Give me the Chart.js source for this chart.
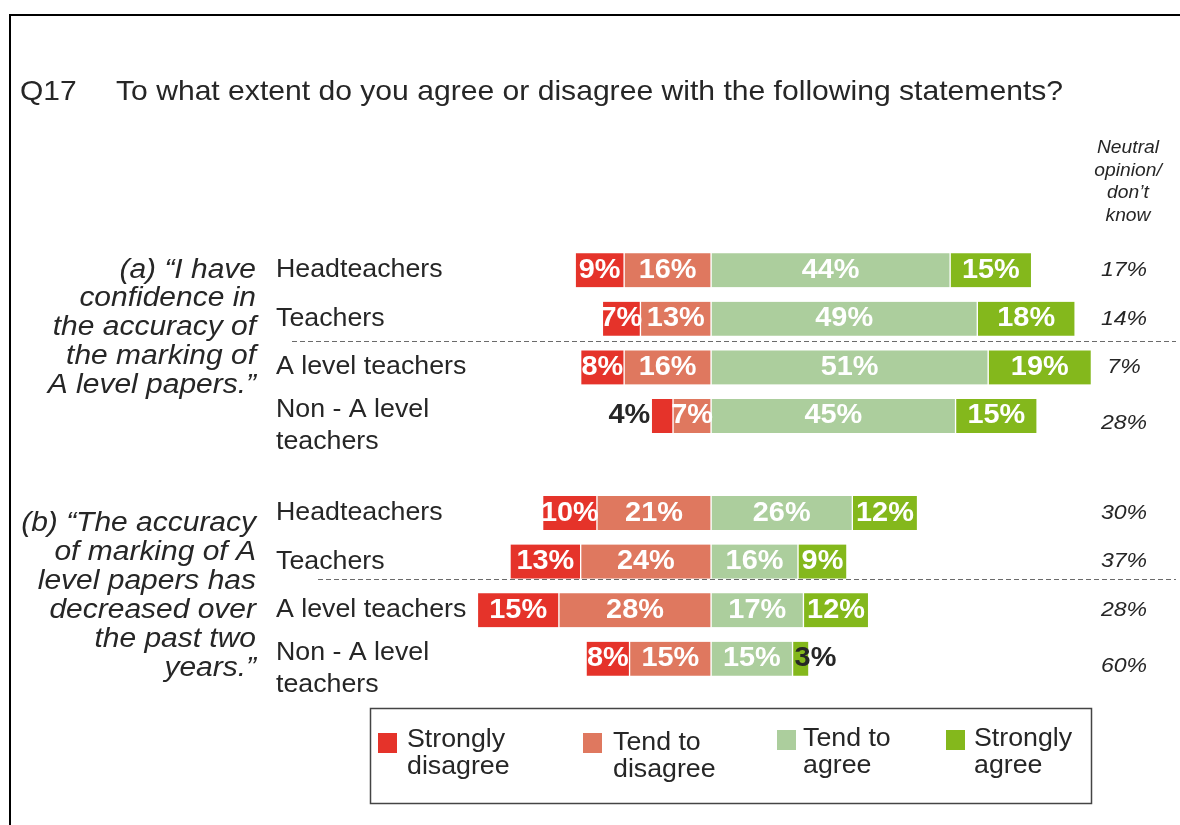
<!DOCTYPE html>
<html>
<head>
<meta charset="utf-8">
<script src="https://cdn.jsdelivr.net/npm/chart.js@4.4.0/dist/chart.umd.min.js"></script>
<style>
  html, body { margin: 0; padding: 0; background: #fff; }
  #wrap { width: 1180px; height: 825px; }
</style>
</head>
<body>
<div id="wrap"><canvas id="chart" width="1180" height="825"></canvas></div>
<script>
// question and statement text
const questionNo = 'Q17'
const questionText = 'To what extent do you agree or disagree with the following statements?'
const statementA = ['(a) “I have', 'confidence in', 'the accuracy of', 'the marking of', 'A level papers.”']
const statementB = ['(b) “The accuracy', 'of marking of A', 'level papers has', 'decreased over', 'the past two', 'years.”']
const neutralHeader = ['Neutral', 'opinion/', 'don’t', 'know']

// rows (empty slot separates statement a from statement b)
const categories = [
  ['Headteachers'], ['Teachers'], ['A level teachers'], ['Non - A level', 'teachers'],
  [''],
  ['Headteachers'], ['Teachers'], ['A level teachers'], ['Non - A level', 'teachers']
]

// percentages
const stronglyDisagree = [9, 7, 8, 4, null, 10, 13, 15, 8]
const tendToDisagree   = [16, 13, 16, 7, null, 21, 24, 28, 15]
const tendToAgree      = [44, 49, 51, 45, null, 26, 16, 17, 15]
const stronglyAgree    = [15, 18, 19, 15, null, 12, 9, 12, 3]
const neutral          = [17, 14, 7, 28, null, 30, 37, 28, 60]

const seriesNames = [['Strongly', 'disagree'], ['Tend to', 'disagree'], ['Tend to', 'agree'], ['Strongly', 'agree']]
const seriesColors = ['#E5332A', '#DF785F', '#ACCE9D', '#84B81C']

const FONT = '"Liberation Sans", Arial, sans-serif'
const TEXT = '#262626'

function drawText(ctx, text, x, y, font, color, align, sx){
    ctx.save()
    ctx.font = font
    ctx.fillStyle = color
    ctx.textAlign = align
    ctx.textBaseline = 'middle'
    ctx.translate(x, y)
    ctx.scale(sx, 1)
    ctx.fillText(text, 0, 0)
    ctx.restore()
}

function negate(arr){
    return arr.map(v => v == null ? null : -v)
}

//frame, titles, row labels, separators and legend
//////////////////////////////////////////////////
const decorations = {
    id: 'decorations',
    beforeDatasetsDraw(chart){
        const ctx = chart.ctx
        const y = chart.scales.y

        // dashed separators
        ctx.save()
        ctx.strokeStyle = '#6b6b6b'
        ctx.lineWidth = 1
        ctx.setLineDash([5, 3])
        const seps = [[1.45, 292], [6.35, 318]]
        seps.forEach(s => {
            const py = Math.round(y.getPixelForValue(s[0])) + 0.5
            ctx.beginPath()
            ctx.moveTo(s[1], py)
            ctx.lineTo(1176, py)
            ctx.stroke()
        })
        ctx.restore()
    },
    afterDraw(chart){
        const ctx = chart.ctx
        const y = chart.scales.y

        // frame
        ctx.fillStyle = '#000'
        ctx.fillRect(9, 14, 1171, 2)
        ctx.fillRect(9, 14, 2, 811)

        // question
        drawText(ctx, questionNo, 20, 92, '28px ' + FONT, TEXT, 'left', 1.07)
        drawText(ctx, questionText, 116, 92, '28px ' + FONT, TEXT, 'left', 1.075)

        // statements
        const itFont = 'italic 27px ' + FONT
        statementA.forEach((line, i) => {
            drawText(ctx, line, 256, y.getPixelForValue(0) + i * 28.7, itFont, TEXT, 'right', 1.11)
        })
        statementB.forEach((line, i) => {
            drawText(ctx, line, 256, y.getPixelForValue(5) + 10 + i * 29, itFont, TEXT, 'right', 1.11)
        })

        // row labels and neutral column
        categories.forEach((lab, i) => {
            if (neutral[i] == null) return
            const py = y.getPixelForValue(i)
            if (lab.length === 1){
                drawText(ctx, lab[0], 276, py, '25px ' + FONT, TEXT, 'left', 1.07)
            } else {
                drawText(ctx, lab[0], 276, py - 6, '25px ' + FONT, TEXT, 'left', 1.07)
                drawText(ctx, lab[1], 276, py + 26, '25px ' + FONT, TEXT, 'left', 1.07)
            }
            const ny = lab.length === 1 ? py : py + 7
            drawText(ctx, neutral[i] + '%', 1124, ny, 'italic 21px ' + FONT, TEXT, 'center', 1.1)
        })
        neutralHeader.forEach((line, i) => {
            drawText(ctx, line, 1128, 148 + i * 22.7, 'italic 18px ' + FONT, TEXT, 'center', 1.07)
        })

        // legend box
        ctx.save()
        ctx.strokeStyle = '#444'
        ctx.lineWidth = 1.5
        ctx.strokeRect(370.5, 708.5, 721, 95)
        ctx.restore()
        const legendPos = [[378, 733, 407, 740], [583, 733, 613, 743], [777, 730, 803, 739], [946, 730, 974, 739]]
        seriesNames.forEach((name, i) => {
            const p = legendPos[i]
            ctx.fillStyle = seriesColors[i]
            ctx.fillRect(p[0], p[1], 19, 20)
            drawText(ctx, name[0], p[2], p[3], '25px ' + FONT, TEXT, 'left', 1.07)
            drawText(ctx, name[1], p[2], p[3] + 27, '25px ' + FONT, TEXT, 'left', 1.07)
        })
    }
}

//value labels on the bars
//////////////////////////
const barLabels = {
    id: 'barLabels',
    afterDatasetsDraw(chart){
        const ctx = chart.ctx
        chart.data.datasets.forEach((ds, di) => {
            const meta = chart.getDatasetMeta(di)
            meta.data.forEach((el, j) => {
                const v = ds.data[j]
                if (v == null) return
                const txt = Math.abs(v) + '%'
                const font = 'bold 27px ' + FONT
                if (Math.abs(v) < 5){
                    if (v < 0){
                        drawText(ctx, txt, Math.min(el.x, el.base) - 1, el.y, font, TEXT, 'right', 1.07)
                    } else {
                        drawText(ctx, txt, Math.min(el.x, el.base) + 2, el.y, font, TEXT, 'left', 1.07)
                    }
                } else {
                    drawText(ctx, txt, (el.x + el.base) / 2, el.y, font, '#fff', 'center', 1.07)
                }
            })
        })
    }
}

function makeSet(label, data, color){
    return {
        label: label,
        data: data,
        backgroundColor: color,
        borderColor: '#fff',
        borderWidth: { left: 1, right: 1, top: 0, bottom: 0 },
        borderSkipped: false,
        barThickness: 34
    }
}

let ctx = document.getElementById('chart').getContext('2d')
// disagree sets are negative; tend-to goes first so it sits next to zero
let chart = new Chart(ctx, {
    type: 'bar',
    data: {
        labels: categories,
        datasets: [
            makeSet('Tend to disagree', negate(tendToDisagree), seriesColors[1]),
            makeSet('Strongly disagree', negate(stronglyDisagree), seriesColors[0]),
            makeSet('Tend to agree', tendToAgree, seriesColors[2]),
            makeSet('Strongly agree', stronglyAgree, seriesColors[3])
        ]
    },
    options: {
        indexAxis: 'y',
        responsive: false,
        animation: false,
        layout: { padding: { left: 472, right: 56, top: 246, bottom: 142 } },
        plugins: { legend: { display: false }, tooltip: { enabled: false } },
        scales: {
            x: { stacked: true, min: -44, max: 76, display: false },
            y: { stacked: true, display: false }
        }
    },
    plugins: [decorations, barLabels]
})
</script>
</body>
</html>
